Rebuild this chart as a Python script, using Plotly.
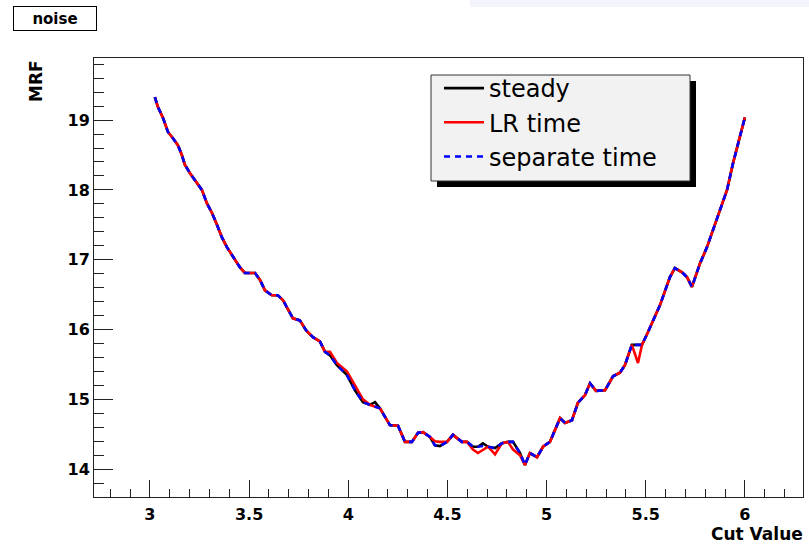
import plotly.graph_objects as go

# ---------------- data ----------------
cut_value = [3.025, 3.040, 3.066, 3.091, 3.116, 3.141, 3.161, 3.176, 3.202, 3.227,
             3.262, 3.287, 3.313, 3.338, 3.363, 3.388, 3.419, 3.454, 3.479, 3.504,
             3.530, 3.555, 3.580, 3.615, 3.645, 3.671, 3.696, 3.721, 3.756, 3.787,
             3.822, 3.857, 3.883, 3.908, 3.943, 3.993, 4.034, 4.074, 4.109, 4.135,
             4.160, 4.210, 4.251, 4.286, 4.321, 4.352, 4.377, 4.412, 4.437, 4.462,
             4.498, 4.528, 4.573, 4.599, 4.629, 4.654, 4.679, 4.705, 4.740, 4.775,
             4.805, 4.831, 4.866, 4.891, 4.916, 4.952, 4.982, 5.017, 5.068, 5.093,
             5.128, 5.158, 5.194, 5.219, 5.249, 5.295, 5.335, 5.370, 5.395, 5.430,
             5.461, 5.481, 5.511, 5.572, 5.622, 5.647, 5.683, 5.708, 5.733, 5.774,
             5.809, 5.859, 5.910, 5.940, 5.975, 6.000]

steady = [19.33, 19.19, 19.03, 18.83, 18.74, 18.64, 18.50, 18.36, 18.24, 18.14,
          18.00, 17.81, 17.67, 17.50, 17.32, 17.18, 17.04, 16.89, 16.81, 16.81,
          16.81, 16.71, 16.56, 16.49, 16.49, 16.42, 16.28, 16.16, 16.13, 15.99,
          15.89, 15.83, 15.68, 15.63, 15.49, 15.35, 15.13, 14.96, 14.92, 14.96,
          14.87, 14.63, 14.62, 14.39, 14.39, 14.52, 14.53, 14.46, 14.34, 14.33,
          14.39, 14.49, 14.39, 14.39, 14.32, 14.32, 14.37, 14.32, 14.30, 14.37,
          14.39, 14.39, 14.23, 14.06, 14.23, 14.17, 14.32, 14.39, 14.73, 14.66,
          14.70, 14.95, 15.06, 15.23, 15.12, 15.13, 15.33, 15.38, 15.49, 15.78,
          15.78, 15.78, 15.96, 16.35, 16.75, 16.88, 16.82, 16.75, 16.61, 16.95,
          17.18, 17.60, 18.00, 18.38, 18.76, 19.04]

lr_time = [19.33, 19.19, 19.03, 18.83, 18.74, 18.64, 18.50, 18.36, 18.24, 18.14,
           18.00, 17.81, 17.67, 17.50, 17.32, 17.18, 17.04, 16.89, 16.81, 16.81,
           16.81, 16.71, 16.56, 16.49, 16.49, 16.42, 16.28, 16.16, 16.13, 15.99,
           15.89, 15.83, 15.68, 15.68, 15.52, 15.40, 15.20, 15.00, 14.92, 14.90,
           14.87, 14.63, 14.62, 14.39, 14.39, 14.52, 14.53, 14.46, 14.40, 14.39,
           14.39, 14.49, 14.39, 14.39, 14.28, 14.23, 14.27, 14.32, 14.21, 14.37,
           14.39, 14.28, 14.20, 14.06, 14.23, 14.17, 14.32, 14.39, 14.73, 14.66,
           14.70, 14.95, 15.06, 15.23, 15.12, 15.13, 15.33, 15.38, 15.49, 15.78,
           15.52, 15.78, 15.96, 16.35, 16.75, 16.88, 16.82, 16.75, 16.61, 16.95,
           17.18, 17.60, 18.00, 18.38, 18.76, 19.04]

separate_time = [19.33, 19.19, 19.03, 18.83, 18.74, 18.64, 18.50, 18.36, 18.24, 18.14,
                 18.00, 17.81, 17.67, 17.50, 17.32, 17.18, 17.04, 16.89, 16.81, 16.81,
                 16.81, 16.71, 16.56, 16.49, 16.49, 16.42, 16.28, 16.16, 16.13, 15.99,
                 15.89, 15.83, 15.68, 15.63, 15.49, 15.35, 15.13, 14.96, 14.92, 14.90,
                 14.87, 14.63, 14.62, 14.39, 14.39, 14.52, 14.53, 14.46, 14.34, 14.33,
                 14.39, 14.49, 14.39, 14.39, 14.32, 14.32, 14.33, 14.32, 14.30, 14.37,
                 14.39, 14.39, 14.23, 14.06, 14.23, 14.17, 14.32, 14.39, 14.73, 14.66,
                 14.70, 14.95, 15.06, 15.23, 15.12, 15.13, 15.33, 15.38, 15.49, 15.78,
                 15.78, 15.78, 15.96, 16.35, 16.75, 16.88, 16.82, 16.75, 16.61, 16.95,
                 17.18, 17.60, 18.00, 18.38, 18.76, 19.04]

series_names = ["steady", "LR time", "separate time"]
x_tick_vals = [3, 3.5, 4, 4.5, 5, 5.5, 6]
x_tick_text = ["3", "3.5", "4", "4.5", "5", "5.5", "6"]
y_tick_vals = [14, 15, 16, 17, 18, 19]
y_tick_text = ["14", "15", "16", "17", "18", "19"]

# ---------------- figure ----------------
W, H = 809, 545
L, R, T, B = 94, 6, 58, 48
pw, ph = W - L - R, H - T - B

def px_x(p):
    return (p - L) / pw

def px_y(p):
    return 1 - (p - T) / ph

FONT = "DejaVu Sans"

fig = go.Figure()
fig.add_trace(go.Scatter(x=cut_value, y=steady, mode="lines", name=series_names[0],
                         legendgroup="a", line=dict(color="black", width=2.6)))
fig.add_trace(go.Scatter(x=cut_value, y=lr_time, mode="lines", name=series_names[1],
                         legendgroup="b", line=dict(color="#ff0000", width=2.6)))
fig.add_trace(go.Scatter(x=cut_value, y=separate_time, mode="lines", name=series_names[2],
                         legendgroup="c", line=dict(color="#0000ff", width=2.6, dash="6px,5px")))

axis_common = dict(
    showline=True, linecolor="#222222", linewidth=1, mirror=True,
    showgrid=False, zeroline=False, ticks="inside", tickcolor="#222222",
    tickwidth=1, tickfont=dict(family=FONT, size=16, color="black", weight="bold"),
)

fig.update_xaxes(range=[2.718, 6.293], tickmode="array", tickvals=x_tick_vals,
                 ticktext=x_tick_text, ticklen=17, ticklabelstandoff=3,
                 minor=dict(ticks="inside", ticklen=8, dtick=0.1, tick0=3,
                            tickcolor="#222222", tickwidth=1, showgrid=False),
                 **axis_common)
fig.update_yaxes(range=[13.6, 19.89], tickmode="array", tickvals=y_tick_vals,
                 ticktext=y_tick_text, ticklen=19,
                 minor=dict(ticks="inside", ticklen=10, dtick=0.2, tick0=14,
                            tickcolor="#222222", tickwidth=1, showgrid=False),
                 **axis_common)

shapes = [
    # faint header gradient strip
    dict(type="rect", xref="paper", yref="paper", x0=px_x(470), x1=px_x(809),
         y0=px_y(0), y1=px_y(7), fillcolor="#f2f5fc", line=dict(width=0), layer="below"),
    # legend shadow
    dict(type="rect", xref="paper", yref="paper", x0=px_x(437), x1=px_x(696),
         y0=px_y(187), y1=px_y(81), fillcolor="black", line=dict(width=0), layer="above"),
    # legend box
    dict(type="rect", xref="paper", yref="paper", x0=px_x(431), x1=px_x(690),
         y0=px_y(181), y1=px_y(75), fillcolor="#f2f2f2",
         line=dict(color="#333333", width=1), layer="above"),
]

annotations = [
    dict(text="noise", xref="paper", yref="paper", x=px_x(13), y=px_y(6),
         xanchor="left", yanchor="top", showarrow=False,
         font=dict(family=FONT, size=15, color="black", weight="bold"),
         bordercolor="black", borderwidth=1, borderpad=2, bgcolor="white",
         width=78, height=19),
    dict(text="MRF", xref="paper", yref="paper", x=px_x(36), y=1.0,
         xanchor="center", yanchor="top", textangle=-90, showarrow=False,
         font=dict(family=FONT, size=17, color="black", weight="bold")),
    dict(text="Cut Value", xref="paper", yref="paper", x=1.0, y=0,
         xanchor="right", yanchor="middle", xshift=2, yshift=-37, showarrow=False,
         font=dict(family=FONT, size=17, color="black", weight="bold")),
]

fig.update_layout(
    width=W, height=H,
    margin=dict(l=L, r=R, t=T, b=B, autoexpand=False),
    paper_bgcolor="white", plot_bgcolor="white",
    shapes=shapes, annotations=annotations,
    showlegend=True,
    legend=dict(x=px_x(439), y=px_y(66), xanchor="left", yanchor="top",
                bgcolor="rgba(0,0,0,0)", borderwidth=0,
                font=dict(family=FONT, size=24, color="black"),
                itemwidth=40, tracegroupgap=4, traceorder="normal"),
)

fig.write_html("out.html")
